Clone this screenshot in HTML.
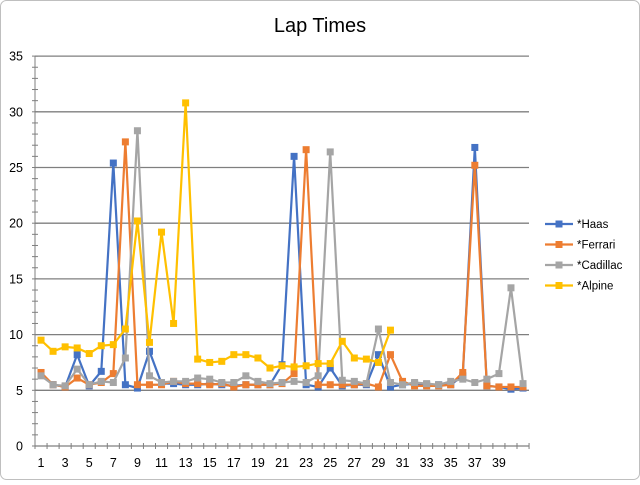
<!DOCTYPE html>
<html><head><meta charset="utf-8"><style>
html,body{margin:0;padding:0;background:#fff}
body{width:640px;height:480px;overflow:hidden}
</style></head><body>
<svg id="c" width="640" height="480" xmlns="http://www.w3.org/2000/svg" font-family="Liberation Sans, sans-serif">
<rect x="0.5" y="0.5" width="639" height="479" rx="6" fill="#fff" stroke="#bfbfbf"/>
<text x="320" y="32" text-anchor="middle" font-size="20" fill="#000">Lap Times</text>
</svg>
<script>
const s=document.getElementById('c');const NS='http://www.w3.org/2000/svg';
function el(t,a,txt){const e=document.createElementNS(NS,t);for(const k in a)e.setAttribute(k,a[k]);if(txt!==undefined)e.textContent=txt;s.appendChild(e);return e;}
const x0=35,w=12.05,yb=446,u=11.14;
const X=i=>x0+(i-0.5)*w, Y=v=>yb-v*u;
for(let v=5;v<=35;v+=5)el('line',{x1:x0,x2:529,y1:Y(v),y2:Y(v),stroke:'#7f7f7f','stroke-width':1.3});
el('line',{x1:x0,x2:529,y1:yb,y2:yb,stroke:'#7f7f7f','stroke-width':1.3});
el('line',{x1:x0,x2:x0,y1:Y(35),y2:yb,stroke:'#7f7f7f','stroke-width':1});
for(let v=0;v<=35;v++){const y=Y(v);el('line',{x1:x0-3,x2:x0+3,y1:y,y2:y,stroke:'#7f7f7f'});}
for(let v=0;v<=35;v+=5)el('text',{x:23,y:Y(v)+4.5,'text-anchor':'end','font-size':12.5,fill:'#000'},v);
for(let i=0;i<=41;i++){const x=x0+i*w;el('line',{x1:x,x2:x,y1:yb-3,y2:yb+3,stroke:'#7f7f7f'});}
for(let i=1;i<=39;i+=2)el('text',{x:X(i),y:467,'text-anchor':'middle','font-size':12.5,fill:'#000'},i);
const D={
haas:['#4472c4',[6.5,5.5,5.3,8.2,5.4,6.7,25.4,5.5,5.2,8.5,5.6,5.6,5.5,5.5,5.6,5.5,5.4,5.5,5.5,5.5,7.3,26,5.5,5.3,7,5.4,5.5,5.5,8.2,5.3,5.5,5.6,5.5,5.5,5.5,6.3,26.8,5.4,5.3,5.1,5.2]],
fer:['#ed7d31',[6.6,5.5,5.3,6.1,5.5,5.7,6.5,27.3,5.5,5.5,5.5,5.8,5.6,5.6,5.5,5.6,5.3,5.5,5.5,5.5,5.6,6.5,26.6,5.5,5.5,5.5,5.5,5.6,5.3,8.2,5.8,5.4,5.4,5.4,5.5,6.6,25.2,5.4,5.3,5.3,5.3]],
cad:['#a5a5a5',[6.3,5.5,5.4,6.9,5.5,5.8,5.7,7.9,28.3,6.3,5.7,5.8,5.8,6.1,6,5.7,5.7,6.3,5.8,5.6,5.7,5.8,5.7,6.3,26.4,5.9,5.8,5.6,10.5,5.7,5.5,5.7,5.6,5.5,5.8,6,5.7,6,6.5,14.2,5.6]],
alp:['#ffc000',[9.5,8.5,8.9,8.8,8.3,9,9.1,10.5,20.2,9.3,19.2,11,30.8,7.8,7.5,7.6,8.2,8.2,7.9,7,7.2,7.1,7.2,7.4,7.4,9.4,7.9,7.8,7.5,10.4]]};
for(const k in D){const [c,v]=D[k];el('polyline',{points:v.map((a,i)=>X(i+1)+','+Y(a)).join(' '),fill:'none',stroke:c,'stroke-width':2.2,'stroke-linejoin':'round'});
v.forEach((a,i)=>el('rect',{x:X(i+1)-3.5,y:Y(a)-3.5,width:7,height:7,fill:c}));}
const L=[['*Haas','#4472c4'],['*Ferrari','#ed7d31'],['*Cadillac','#a5a5a5'],['*Alpine','#ffc000']];
L.forEach((l,i)=>{const y=224+i*20.5;el('line',{x1:545,x2:573,y1:y,y2:y,stroke:l[1],'stroke-width':2.2});el('rect',{x:555.5,y:y-3.5,width:7,height:7,fill:l[1]});el('text',{x:577,y:y+4,'font-size':11.5,fill:'#000'},l[0]);});
</script>
</body></html>
